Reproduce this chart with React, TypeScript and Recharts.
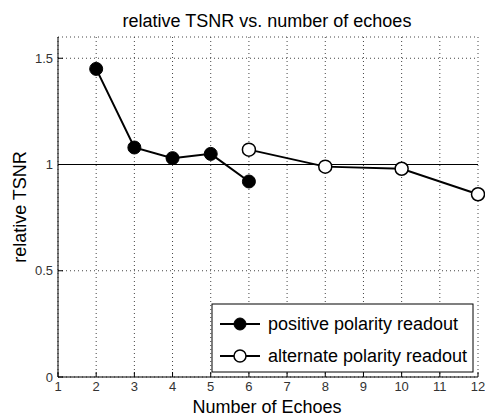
import React from 'react';
import { LineChart, Line, XAxis, YAxis, CartesianGrid, ReferenceLine } from 'recharts';

const xTicks = [1, 2, 3, 4, 5, 6, 7, 8, 9, 10, 11, 12];
const yTicks = [0, 0.5, 1, 1.5];

const positiveEchoes = [2, 3, 4, 5, 6];
const positiveTsnr = [1.45, 1.08, 1.03, 1.05, 0.92];

const alternateEchoes = [6, 8, 10, 12];
const alternateTsnr = [1.07, 0.99, 0.98, 0.86];

const positiveData = positiveEchoes.map((x, i) => ({ x, y: positiveTsnr[i] }));
const alternateData = alternateEchoes.map((x, i) => ({ x, y: alternateTsnr[i] }));

const FONT = '"Liberation Sans", Arial, sans-serif';

const BottomTick = (props: any) => {
  const { x, y, payload } = props;
  return (
    <g>
      <line x1={x} y1={y - 5} x2={x} y2={y - 10} stroke="#000" strokeWidth={1} />
      <text x={x} y={y} dy="0.71em" textAnchor="middle" fontSize={13} fill="#333" fontFamily={FONT}>
        {payload.value}
      </text>
    </g>
  );
};

const LeftTick = (props: any) => {
  const { x, y, payload } = props;
  return (
    <g>
      <line x1={x + 5} y1={y} x2={x + 10} y2={y} stroke="#000" strokeWidth={1} />
      <text x={x} y={y} dy="0.35em" textAnchor="end" fontSize={13} fill="#333" fontFamily={FONT}>
        {payload.value}
      </text>
    </g>
  );
};

const TopTick = (props: any) => {
  const { x, y } = props;
  return <line x1={x} y1={y} x2={x} y2={y + 5} stroke="#000" strokeWidth={1} />;
};

const RightTick = (props: any) => {
  const { x, y } = props;
  return <line x1={x} y1={y} x2={x - 5} y2={y} stroke="#000" strokeWidth={1} />;
};

const LegendBox = () => (
  <g fontFamily={FONT}>
    <rect x={212} y={304} width={261} height={68} fill="#fff" stroke="#000" strokeWidth={1} />
    <line x1={220} y1={324} x2={260} y2={324} stroke="#000" strokeWidth={2} />
    <circle cx={240} cy={324} r={6} fill="#000" stroke="#000" />
    <text x={268} y={324} dy="0.35em" fontSize={18} fill="#000">positive polarity readout</text>
    <line x1={220} y1={356} x2={260} y2={356} stroke="#000" strokeWidth={2} />
    <circle cx={240} cy={356} r={6} fill="#fff" stroke="#000" strokeWidth={1.5} />
    <text x={268} y={356} dy="0.35em" fontSize={18} fill="#000">alternate polarity readout</text>
  </g>
);

export default function App() {
  return (
    <div style={{ position: 'absolute', left: 0, top: 0, width: 485, height: 418, background: '#fff' }}>
      <svg width={485} height={418} style={{ position: 'absolute', left: 0, top: 0 }}>
        <text x={267} y={27} textAnchor="middle" fontSize={18} fontFamily={FONT} fill="#000">
          relative TSNR vs. number of echoes
        </text>
        <text x={267} y={413} textAnchor="middle" fontSize={18} fontFamily={FONT} fill="#000">
          Number of Echoes
        </text>
        <text
          x={20}
          y={207}
          textAnchor="middle"
          fontSize={18}
          fontFamily={FONT}
          fill="#000"
          transform="rotate(-90 20 207)"
          dy="0.35em"
        >
          relative TSNR
        </text>
      </svg>
      <div style={{ position: 'absolute', left: 0, top: 0 }}>
        <LineChart width={485} height={418} margin={{ top: 37, right: 7, bottom: 11, left: 0 }}>
          <CartesianGrid stroke="#444" strokeDasharray="1 3" fill="none" />
          <XAxis
            dataKey="x"
            type="number"
            domain={[1, 12]}
            ticks={xTicks}
            allowDuplicatedCategory={false}
            height={30}
            tickSize={0}
            tickMargin={5}
            tick={<BottomTick />}
            axisLine={{ stroke: '#000' }}
            interval={0}
          />
          <XAxis
            xAxisId="top"
            orientation="top"
            dataKey="x"
            type="number"
            domain={[1, 12]}
            ticks={xTicks}
            height={0}
            tickSize={0}
            tickMargin={0}
            tick={<TopTick />}
            axisLine={{ stroke: '#000' }}
            interval={0}
          />
          <YAxis
            type="number"
            domain={[0, 1.6]}
            ticks={yTicks}
            width={58}
            tickSize={0}
            tickMargin={5}
            tick={<LeftTick />}
            axisLine={{ stroke: '#000' }}
            interval={0}
          />
          <YAxis
            yAxisId="right"
            orientation="right"
            type="number"
            domain={[0, 1.6]}
            ticks={yTicks}
            width={0}
            tickSize={0}
            tickMargin={0}
            tick={<RightTick />}
            axisLine={{ stroke: '#000' }}
            interval={0}
          />
          <ReferenceLine y={1} stroke="#000" strokeWidth={1} />
          <Line
            data={positiveData}
            dataKey="y"
            stroke="#000"
            strokeWidth={2}
            dot={{ r: 6.5, fill: '#000', stroke: '#000', strokeWidth: 1 }}
            isAnimationActive={false}
          />
          <Line
            data={alternateData}
            dataKey="y"
            stroke="#000"
            strokeWidth={2}
            dot={{ r: 6.5, fill: '#fff', stroke: '#000', strokeWidth: 1.5 }}
            isAnimationActive={false}
          />
          <LegendBox />
        </LineChart>
      </div>
    </div>
  );
}
